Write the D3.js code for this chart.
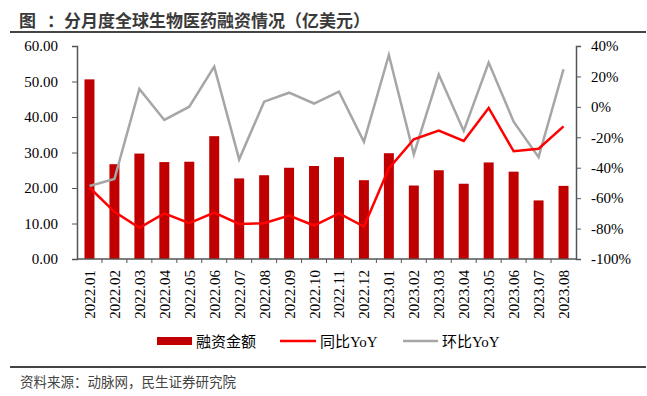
<!DOCTYPE html>
<html>
<head>
<meta charset="utf-8">
<script src="https://cdn.jsdelivr.net/npm/d3@7"></script>
<style>
  body { margin: 0; background: #fff; }
  svg { display: block; }
</style>
</head>
<body>
<div id="chart"></div>
<script>
'use strict'

const months = ['2022.01', '2022.02', '2022.03', '2022.04', '2022.05', '2022.06', '2022.07',
    '2022.08', '2022.09', '2022.10', '2022.11', '2022.12', '2023.01', '2023.02', '2023.03',
    '2023.04', '2023.05', '2023.06', '2023.07', '2023.08']
const funding = [50.6, 26.7, 29.7, 27.3, 27.4, 34.6, 22.7, 23.6, 25.7, 26.2,
    28.7, 22.2, 29.8, 20.7, 25.0, 21.2, 27.2, 24.6, 16.5, 20.6]
const yoy = [-53, -69, -79.5, -70, -76.5, -69.5, -77, -76.5, -71.5, -78,
    -70, -78.7, -40.4, -21.3, -15.6, -22.4, -0.7, -29.2, -27.5, -12.8]
const mom = [-52, -47.4, 11.8, -8.6, 0.1, 26.4, -34.5, 3.4, 9.3, 2.2,
    10, -22.9, 34.1, -31.2, 21.2, -15.8, 29.1, -9.7, -33.1, 24.7]
const leftTicks = [0, 10, 20, 30, 40, 50, 60]
const rightTicks = [-100, -80, -60, -40, -20, 0, 20, 40]

const width = 647,
    height = 396,
    margin = { left: 77, right: 71, top: 46, bottom: 137 }

const serif = '"Liberation Serif", "Times New Roman", serif',
    cjk = '"Noto Sans CJK SC", sans-serif'

const svg = d3.select('#chart')
    .append('svg')
    .attr('width', width)
    .attr('height', height)

// title + rules
const title = svg.append('g')
    .style('font-family', cjk)
    .style('font-size', '17px')
    .style('font-weight', 'bold')
    .attr('fill', '#3a3a3a')
title.append('text').attr('x', 19).attr('y', 27).text('图')
title.append('text').attr('x', 47).attr('y', 27).text('：分月度全球生物医药融资情况（亿美元）')

svg.append('line')
    .attr('x1', 10).attr('x2', 646)
    .attr('y1', 32).attr('y2', 32)
    .attr('stroke', '#444').attr('stroke-width', 2)

svg.append('line')
    .attr('x1', 10).attr('x2', 646)
    .attr('y1', 367).attr('y2', 367)
    .attr('stroke', '#444').attr('stroke-width', 2)

svg.append('text')
    .attr('x', 20)
    .attr('y', 387)
    .style('font-family', cjk)
    .style('font-size', '13.5px')
    .attr('fill', '#444')
    .text('资料来源：动脉网，民生证券研究院')

const x = d3.scaleBand()
    .domain(months)
    .range([margin.left, width - margin.right])
    .paddingInner(0.6)
    .paddingOuter(0.3)

const yL = d3.scaleLinear()
    .domain([0, 60])
    .range([height - margin.bottom, margin.top])

const yR = d3.scaleLinear()
    .domain([-100, 40])
    .range([height - margin.bottom, margin.top])

// bars
svg.append('g')
    .selectAll('rect')
    .data(funding)
    .enter()
    .append('rect')
    .attr('x', (d, i) => x(months[i]))
    .attr('y', d => yL(d))
    .attr('width', x.bandwidth())
    .attr('height', d => yL(0) - yL(d))
    .attr('fill', '#c00000')

const cx = i => x(months[i]) + x.bandwidth() / 2

const line = d3.line()
    .x((d, i) => cx(i))
    .y(d => yR(d))

svg.append('path')
    .datum(mom)
    .attr('d', line)
    .attr('fill', 'none')
    .attr('stroke', '#a6a6a6')
    .attr('stroke-width', 2.5)

svg.append('path')
    .datum(yoy)
    .attr('d', line)
    .attr('fill', 'none')
    .attr('stroke', '#ff0000')
    .attr('stroke-width', 2.5)

// axes
const axisColor = '#555'

const leftAxis = svg.append('g')
    .attr('transform', `translate(${margin.left},0)`)
    .call(d3.axisLeft(yL).tickValues(leftTicks).tickFormat(d3.format('.2f')).tickSize(5).tickPadding(14))
const rightAxis = svg.append('g')
    .attr('transform', `translate(${width - margin.right},0)`)
    .call(d3.axisRight(yR).tickValues(rightTicks).tickFormat(d => d + '%').tickSize(5).tickPadding(10))

// x axis: ticks sit between the categories
const xAxis = svg.append('g')
    .attr('transform', `translate(0,${height - margin.bottom})`)
xAxis.append('line')
    .attr('x1', margin.left).attr('x2', width - margin.right)
    .attr('stroke', axisColor).attr('stroke-width', 1.5)
const boundary = i => x(months[i]) - x.step() * x.paddingInner() / 2
xAxis.selectAll('line.tick')
    .data(d3.range(1, months.length))
    .enter()
    .append('line')
    .attr('class', 'tick')
    .attr('x1', boundary)
    .attr('x2', boundary)
    .attr('y1', 0).attr('y2', 4)
    .attr('stroke', axisColor)
xAxis.selectAll('text')
    .data(months)
    .enter()
    .append('text')
    .attr('transform', d => `translate(${x(d) + x.bandwidth() / 2 + 5.5},11) rotate(-90)`)
    .attr('text-anchor', 'end')
    .style('font-family', serif)
    .style('font-size', '15px')
    .attr('fill', '#000')
    .text(d => d)

;[leftAxis, rightAxis].forEach(g => {
    g.select('.domain').attr('stroke', axisColor).attr('stroke-width', 1.5)
    g.selectAll('.tick line').attr('stroke', axisColor)
    g.selectAll('.tick text')
        .style('font-family', serif)
        .style('font-size', '15px')
        .attr('fill', '#000')
})

// legend
const legend = svg.append('g').attr('transform', 'translate(0,341)')
legend.append('rect')
    .attr('x', 157).attr('y', -4)
    .attr('width', 35).attr('height', 8)
    .attr('fill', '#c00000')
legend.append('line')
    .attr('x1', 280).attr('x2', 316)
    .attr('stroke', '#ff0000').attr('stroke-width', 2.5)
legend.append('line')
    .attr('x1', 403).attr('x2', 438)
    .attr('stroke', '#a6a6a6').attr('stroke-width', 2.5)
legend.selectAll('text')
    .data([['融资金额', 196], ['同比YoY', 320], ['环比YoY', 442]])
    .enter()
    .append('text')
    .attr('x', d => d[1])
    .attr('y', 5.5)
    .style('font-family', '"Liberation Serif", "Noto Sans CJK SC", serif')
    .style('font-size', '15px')
    .attr('fill', '#000')
    .text(d => d[0])
</script>
</body>
</html>
